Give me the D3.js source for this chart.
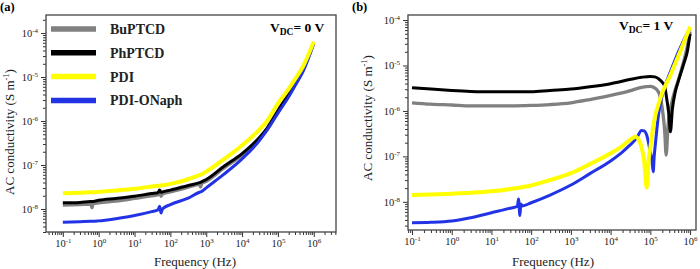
<!DOCTYPE html>
<html>
<head>
<meta charset="utf-8">
<script src="https://cdn.jsdelivr.net/npm/d3@7"></script>
<style>
body { margin: 0; background: #fff; }
svg { display: block; }
svg text { font-family: "Liberation Serif", "DejaVu Serif", serif; }
</style>
</head>
<body>
<div id="chart"></div>
<script>
// panel (a), V_DC = 0 V : one frequency grid (Hz) for all four samples
const freqA = [0.1, 0.3, 0.6, 0.65, 0.7, 1, 3, 10, 30, 45, 50, 55, 60, 100, 300, 650, 700, 750,
  1e3, 3e3, 1e4, 3e4, 5e4, 1e5, 2e5, 3e5, 5e5, 1e6];
const buA = [1.23e-8, 1.26e-8, 1.29e-8, 1.07e-8, 1.32e-8, 1.38e-8, 1.51e-8, 1.74e-8, 2.0e-8, 2.09e-8,
  2.45e-8, 1.95e-8, 2.19e-8, 2.45e-8, 3.09e-8, 3.63e-8, 3.16e-8, 3.80e-8, 4.27e-8, 8.32e-8,
  1.70e-7, 3.80e-7, 6.31e-7, 1.58e-6, 3.80e-6, 6.76e-6, 1.45e-5, 6.03e-5];
const phA = [1.38e-8, 1.41e-8, 1.48e-8, 1.48e-8, 1.48e-8, 1.58e-8, 1.74e-8, 1.95e-8, 2.24e-8, 2.34e-8,
  2.70e-8, 2.40e-8, 2.45e-8, 2.69e-8, 3.39e-8, 3.98e-8, 4.07e-8, 4.17e-8, 4.68e-8, 9.12e-8,
  1.82e-7, 4.17e-7, 6.92e-7, 1.74e-6, 4.17e-6, 7.24e-6, 1.51e-5, 6.03e-5];
const pdiA = [2.29e-8, 2.34e-8, 2.40e-8, 2.40e-8, 2.40e-8, 2.45e-8, 2.63e-8, 2.88e-8, 3.24e-8, 3.39e-8,
  3.39e-8, 3.47e-8, 3.47e-8, 3.72e-8, 4.68e-8, 5.89e-8, 6.03e-8, 6.17e-8, 7.08e-8, 1.32e-7,
  2.82e-7, 6.31e-7, 1.0e-6, 2.51e-6, 5.37e-6, 8.91e-6, 1.74e-5, 6.31e-5];
const onaphA = [5.01e-9, 5.13e-9, 5.25e-9, 5.25e-9, 5.25e-9, 5.37e-9, 6.03e-9, 7.08e-9, 8.71e-9, 9.55e-9,
  1.15e-8, 8.1e-9, 1.0e-8, 1.26e-8, 1.74e-8, 2.40e-8, 2.45e-8, 2.51e-8, 3.02e-8, 6.03e-8,
  1.38e-7, 3.55e-7, 6.31e-7, 1.51e-6, 3.55e-6, 6.31e-6, 1.32e-5, 5.75e-5];

// panel (b), V_DC = 1 V : each sample has its own frequencies around the dips
const buFreqB = [0.1, 0.3, 1, 3, 10, 30, 100, 300, 1e3, 3e3, 1e4, 3e4, 6e4, 1e5, 1.2e5, 1.6e5,
  2e5, 2.3e5, 2.5e5, 2.8e5, 3.2e5, 3.7e5, 5.6e5, 9e5, 1e6];
const buB = [1.51e-6, 1.41e-6, 1.35e-6, 1.29e-6, 1.29e-6, 1.29e-6, 1.32e-6, 1.38e-6, 1.51e-6, 1.78e-6,
  2.19e-6, 2.75e-6, 3.31e-6, 3.47e-6, 3.31e-6, 2.63e-6, 1.12e-6, 3.55e-7, 1.07e-7, 5.01e-7,
  1.12e-6, 1.95e-6, 6.31e-6, 3.31e-5, 5.5e-5];
const phFreqB = [0.1, 0.3, 1, 3, 10, 30, 100, 300, 1e3, 3e3, 1e4, 3e4, 6e4, 1e5, 1.3e5, 1.6e5,
  2e5, 2.3e5, 2.6e5, 2.9e5, 3.2e5, 3.6e5, 4.2e5, 5e5, 7e5, 8.5e5, 1e6];
const phB = [3.24e-6, 3.02e-6, 2.82e-6, 2.69e-6, 2.63e-6, 2.63e-6, 2.63e-6, 2.82e-6, 3.02e-6, 3.39e-6,
  3.98e-6, 4.90e-6, 5.50e-6, 5.75e-6, 5.62e-6, 5.13e-6, 4.27e-6, 3.47e-6, 1.78e-6, 8.91e-7,
  3.47e-7, 1.12e-6, 2.51e-6, 4.37e-6, 1.12e-5, 2.0e-5, 5.01e-5];
const pdiFreqB = [0.1, 0.3, 1, 3, 10, 30, 100, 300, 1e3, 3e3, 1e4, 2e4, 3.5e4, 4.2e4, 5e4, 6e4,
  7e4, 8.1e4, 9e4, 1e5, 1.2e5, 1.8e5, 3.2e5, 5.6e5, 1e6];
const pdiB = [1.41e-8, 1.45e-8, 1.51e-8, 1.58e-8, 1.70e-8, 1.91e-8, 2.29e-8, 3.02e-8, 4.27e-8, 6.76e-8,
  1.17e-7, 1.70e-7, 2.51e-7, 2.69e-7, 2.40e-7, 1.58e-7, 7.94e-8, 2.04e-8, 7.94e-8, 1.55e-7,
  5.01e-7, 1.95e-6, 6.17e-6, 2.0e-5, 7.08e-5];
const onaphFreqB = [0.1, 0.3, 1, 3, 10, 30, 45, 48, 52, 55, 60, 100, 300, 1e3, 3e3, 1e4, 2e4, 3e4,
  4.5e4, 6e4, 7e4, 8e4, 9.5e4, 1.1e5, 1.18e5, 1.25e5, 1.35e5, 1.6e5, 2.1e5, 3.2e5, 5.6e5, 9e5, 1e6];
const onaphB = [3.47e-9, 3.55e-9, 3.80e-9, 4.47e-9, 5.75e-9, 7.24e-9, 7.94e-9, 1.15e-8, 5.0e-9, 8.91e-9,
  8.13e-9, 9.55e-9, 1.41e-8, 2.34e-8, 4.17e-8, 7.94e-8, 1.26e-7, 1.74e-7, 2.51e-7, 3.72e-7,
  3.63e-7, 3.02e-7, 1.58e-7, 7.94e-8, 4.57e-8, 1.0e-7, 2.0e-7, 8.13e-7, 2.63e-6, 7.24e-6,
  2.4e-5, 5.5e-5, 6.31e-5];

const names = ["BuPTCD", "PhPTCD", "PDI", "PDI-ONaph"];
const colors = ["#808080", "#000000", "#ffff00", "#2233e6"];

const W = 700, H = 269;
const serif = "'Liberation Serif', 'DejaVu Serif', serif";

const svg = d3.select("#chart").append("svg")
  .attr("width", W)
  .attr("height", H)
  .attr("font-family", serif);

svg.append("rect").attr("width", W).attr("height", H).attr("fill", "#fff");

function logTicks(domain) {
  const major = [], minor = [];
  const lo = Math.floor(Math.log10(domain[0])), hi = Math.ceil(Math.log10(domain[1]));
  for (let e = lo; e <= hi; e++) {
    for (let m = 1; m <= 9; m++) {
      const v = m * Math.pow(10, e);
      if (v < domain[0] || v > domain[1]) continue;
      if (m === 1) major.push(v); else minor.push(v);
    }
  }
  return { major, minor };
}

function powLabels(g) {
  g.selectAll(".tick text").each(function(d) {
    const t = d3.select(this);
    const e = Math.round(Math.log10(d));
    t.text(null);
    t.append("tspan").text("10");
    t.append("tspan").attr("dy", "-4").attr("font-size", "7px").text(e);
  });
}

function drawPanel(p) {
  const x = d3.scaleLog().domain(p.xDomain).range([p.left, p.right]);
  const y = d3.scaleLog().domain(p.yDomain).range([p.bottom, p.top]);

  const g = svg.append("g");
  const clipId = "clip-" + p.tag;
  g.append("clipPath").attr("id", clipId)
    .append("rect")
    .attr("x", p.left).attr("y", p.top)
    .attr("width", p.right - p.left).attr("height", p.bottom - p.top);

  const xt = logTicks(p.xDomain), yt = logTicks(p.yDomain);

  // minor ticks
  g.append("g")
    .attr("transform", "translate(0," + p.bottom + ")")
    .call(d3.axisBottom(x).tickValues(xt.minor).tickSize(3).tickFormat(""))
    .call(a => a.select(".domain").remove());
  g.append("g")
    .attr("transform", "translate(" + p.left + ",0)")
    .call(d3.axisLeft(y).tickValues(yt.minor).tickSize(3).tickFormat(""))
    .call(a => a.select(".domain").remove());

  // major ticks with 10^n labels
  g.append("g")
    .attr("transform", "translate(0," + p.bottom + ")")
    .call(d3.axisBottom(x).tickValues(xt.major).tickSize(5).tickPadding(3))
    .call(a => a.select(".domain").remove())
    .call(powLabels);
  g.append("g")
    .attr("transform", "translate(" + p.left + ",0)")
    .call(d3.axisLeft(y).tickValues(yt.major).tickSize(5).tickPadding(3))
    .call(a => a.select(".domain").remove())
    .call(powLabels);

  g.selectAll("g").attr("font-family", serif);
  g.selectAll(".tick line").attr("stroke", "#333");
  g.selectAll(".tick text")
    .attr("font-size", "10.5px")
    .attr("fill", "#222");

  const line = d3.line()
    .x(d => x(d[0]))
    .y(d => y(d[1]))
    .curve(d3.curveMonotoneX);

  g.append("g").attr("clip-path", "url(#" + clipId + ")")
    .selectAll("path")
    .data(p.series)
    .join("path")
    .attr("d", s => line(d3.zip(s.freq, s.sigma)))
    .attr("fill", "none")
    .attr("stroke", s => s.color)
    .attr("stroke-width", s => s.width)
    .attr("stroke-linejoin", "round");

  // frame
  g.append("rect")
    .attr("x", p.left).attr("y", p.top)
    .attr("width", p.right - p.left).attr("height", p.bottom - p.top)
    .attr("fill", "none")
    .attr("stroke", "#444")
    .attr("stroke-width", 1.3);

  // axis titles
  g.append("text")
    .attr("x", p.xTitleX)
    .attr("y", 266)
    .attr("text-anchor", "middle")
    .attr("font-size", "13px")
    .attr("fill", "#222")
    .text("Frequency (Hz)");

  const yTitle = g.append("text")
    .attr("transform", "translate(" + p.yTitleX + "," + p.yTitleY + ") rotate(-90)")
    .attr("text-anchor", "middle")
    .attr("font-size", "13px")
    .attr("fill", "#222");
  yTitle.append("tspan").text("AC conductivity (S m");
  yTitle.append("tspan").attr("dy", "-5").attr("font-size", "8.5px").text("-1");
  yTitle.append("tspan").attr("dy", "5").text(")");

  // panel letter
  g.append("text")
    .attr("x", p.letterX).attr("y", 11)
    .attr("font-size", "12.5px")
    .attr("font-weight", "bold")
    .text(p.letter);

  // V_DC note
  const v = g.append("text")
    .attr("x", p.vX).attr("y", p.vY)
    .attr("font-size", "13.5px")
    .attr("font-weight", "bold");
  v.append("tspan").text("V");
  v.append("tspan").attr("dy", "3").attr("font-size", "9.5px").text("DC");
  v.append("tspan").attr("dy", "-3").text("= " + p.vdc + " V");
}

const seriesA = [
  { freq: freqA, sigma: buA, color: colors[0], width: 3.3 },
  { freq: freqA, sigma: phA, color: colors[1], width: 3 },
  { freq: freqA, sigma: onaphA, color: colors[3], width: 3 },
  { freq: freqA, sigma: pdiA, color: colors[2], width: 4 }
];
const seriesB = [
  { freq: buFreqB, sigma: buB, color: colors[0], width: 3.3 },
  { freq: phFreqB, sigma: phB, color: colors[1], width: 3 },
  { freq: onaphFreqB, sigma: onaphB, color: colors[3], width: 3 },
  { freq: pdiFreqB, sigma: pdiB, color: colors[2], width: 4 }
];

drawPanel({
  tag: "a", letter: "(a)", letterX: 0, vdc: 0, vX: 270, vY: 32,
  left: 46, right: 336, top: 15, bottom: 232,
  xDomain: [0.0339, 4.17e6], yDomain: [3.0e-9, 2.57e-4],
  xTitleX: 195, yTitleX: 14, yTitleY: 132,
  series: seriesA
});
drawPanel({
  tag: "b", letter: "(b)", letterX: 352, vdc: 1, vX: 619, vY: 30,
  left: 408, right: 696, top: 15, bottom: 230,
  xDomain: [0.0794, 1.41e6], yDomain: [2.4e-9, 1.29e-4],
  xTitleX: 553, yTitleX: 372, yTitleY: 118,
  series: seriesB
});

// legend inside panel (a)
const legend = svg.append("g");
names.forEach((name, i) => {
  const yy = 29 + i * 23.8;
  legend.append("line")
    .attr("x1", 51).attr("x2", 96)
    .attr("y1", yy).attr("y2", yy)
    .attr("stroke", colors[i])
    .attr("stroke-width", 5.5);
  legend.append("text")
    .attr("x", 110).attr("y", yy + 5)
    .attr("font-size", "14px")
    .attr("font-weight", "bold")
    .attr("fill", "#222")
    .text(name);
});
</script>
</body>
</html>
